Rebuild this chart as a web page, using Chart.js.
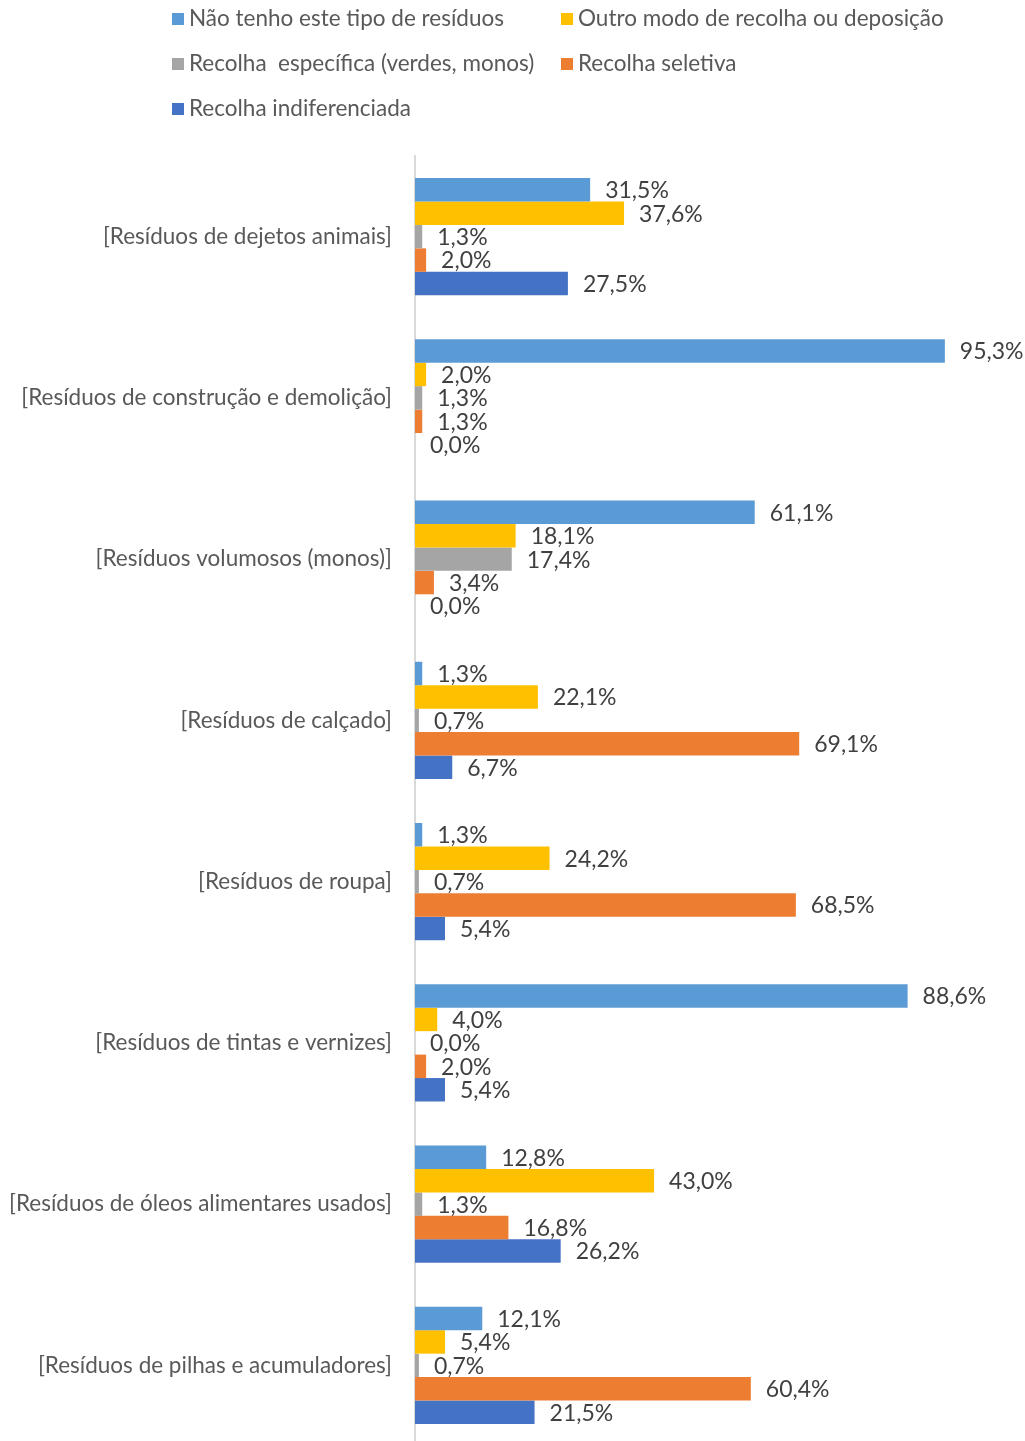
<!DOCTYPE html>
<html>
<head>
<meta charset="utf-8">
<script src="https://cdn.jsdelivr.net/npm/chart.js@4/dist/chart.umd.min.js"></script>
<style>
  body { margin: 0; background: #fff; overflow: hidden; }
  #wrap { position: relative; width: 1025px; height: 1441px; }
  #legend { position: absolute; left: 0; top: 0; width: 1025px; height: 140px; font-family: Lato, sans-serif; font-size: 22.5px; color: #595959; }
  .item { position: absolute; white-space: pre; line-height: 24px; }
  .box { display: inline-block; width: 12px; height: 12px; margin-right: 5px; vertical-align: 1px; }
</style>
</head>
<body>
<div id="wrap">
  <div id="legend"></div>
  <canvas id="bar-chart" width="1025" height="1446"></canvas>
</div>
<script>
const categories = [
  '[Resíduos de dejetos animais]',
  '[Resíduos de construção e demolição]',
  '[Resíduos volumosos (monos)]',
  '[Resíduos de calçado]',
  '[Resíduos de roupa]',
  '[Resíduos de tintas e vernizes]',
  '[Resíduos de óleos alimentares usados]',
  '[Resíduos de pilhas e acumuladores]'
];

const naoTenho       = [31.5, 95.3, 61.1, 1.3, 1.3, 88.6, 12.8, 12.1];
const outroModo      = [37.6, 2.0, 18.1, 22.1, 24.2, 4.0, 43.0, 5.4];
const especifica     = [1.3, 1.3, 17.4, 0.7, 0.7, 0.0, 1.3, 0.7];
const seletiva       = [2.0, 1.3, 3.4, 69.1, 68.5, 2.0, 16.8, 60.4];
const indiferenciada = [27.5, 0.0, 0.0, 6.7, 5.4, 5.4, 26.2, 21.5];

const seriesNames = [
  'Não tenho este tipo de resíduos',
  'Outro modo de recolha ou deposição',
  'Recolha  específica (verdes, monos)',
  'Recolha seletiva',
  'Recolha indiferenciada'
];
const seriesColors = ['#5B9BD5', '#FFC000', '#A5A5A5', '#ED7D31', '#4472C4'];
const seriesValues = [naoTenho, outroModo, especifica, seletiva, indiferenciada];

const FONT = 'Lato, sans-serif';

// value labels at the end of each bar, "31,5%" style
const barLabels = {
  id: 'barLabels',
  afterDatasetsDraw(chart) {
    const c = chart.ctx;
    c.save();
    c.font = '23px ' + FONT;
    c.fillStyle = '#404040';
    c.textAlign = 'left';
    c.textBaseline = 'middle';
    chart.data.datasets.forEach((ds, i) => {
      chart.getDatasetMeta(i).data.forEach((bar, j) => {
        const txt = ds.data[j].toFixed(1).replace('.', ',') + '%';
        c.fillText(txt, bar.x + 15, bar.y + 1);
      });
    });
    c.restore();
  }
};

const ctx = document.getElementById('bar-chart');

const chart = new Chart(ctx, {
  type: 'bar',
  data: {
    labels: categories,
    datasets: seriesNames.map((name, i) => ({
      label: name,
      data: seriesValues[i],
      backgroundColor: seriesColors[i],
      borderWidth: 0,
      categoryPercentage: 0.727,
      barPercentage: 1.0
    }))
  },
  options: {
    indexAxis: 'y',
    responsive: false,
    animation: false,
    layout: {
      padding: { top: 156, right: 54, bottom: 0, left: 0 }
    },
    plugins: {
      legend: { display: false },
      tooltip: { enabled: false }
    },
    scales: {
      x: {
        display: false,
        min: 0,
        max: 100
      },
      y: {
        // fixed axis width, and no extra room above/below for the labels
        afterFit: s => {
          s.width = 415;
          s.paddingTop = 0;
          s.paddingBottom = 0;
        },
        grid: { display: false, drawTicks: false },
        border: { display: true, color: '#D9D9D9', width: 2 },
        ticks: {
          padding: 23,
          color: '#595959',
          font: { family: FONT, size: 22.5 }
        }
      }
    }
  },
  plugins: [barLabels]
});

// two-column legend built from the datasets
const legend = document.getElementById('legend');
const cols = [172, 561];
const rows = [18, 63, 108];
chart.data.datasets.forEach((ds, i) => {
  const el = document.createElement('div');
  el.className = 'item';
  el.style.left = cols[i % 2] + 'px';
  el.style.top = (rows[Math.floor(i / 2)] - 12) + 'px';
  const box = document.createElement('span');
  box.className = 'box';
  box.style.background = ds.backgroundColor;
  el.appendChild(box);
  el.appendChild(document.createTextNode(ds.label));
  legend.appendChild(el);
});
</script>
</body>
</html>
